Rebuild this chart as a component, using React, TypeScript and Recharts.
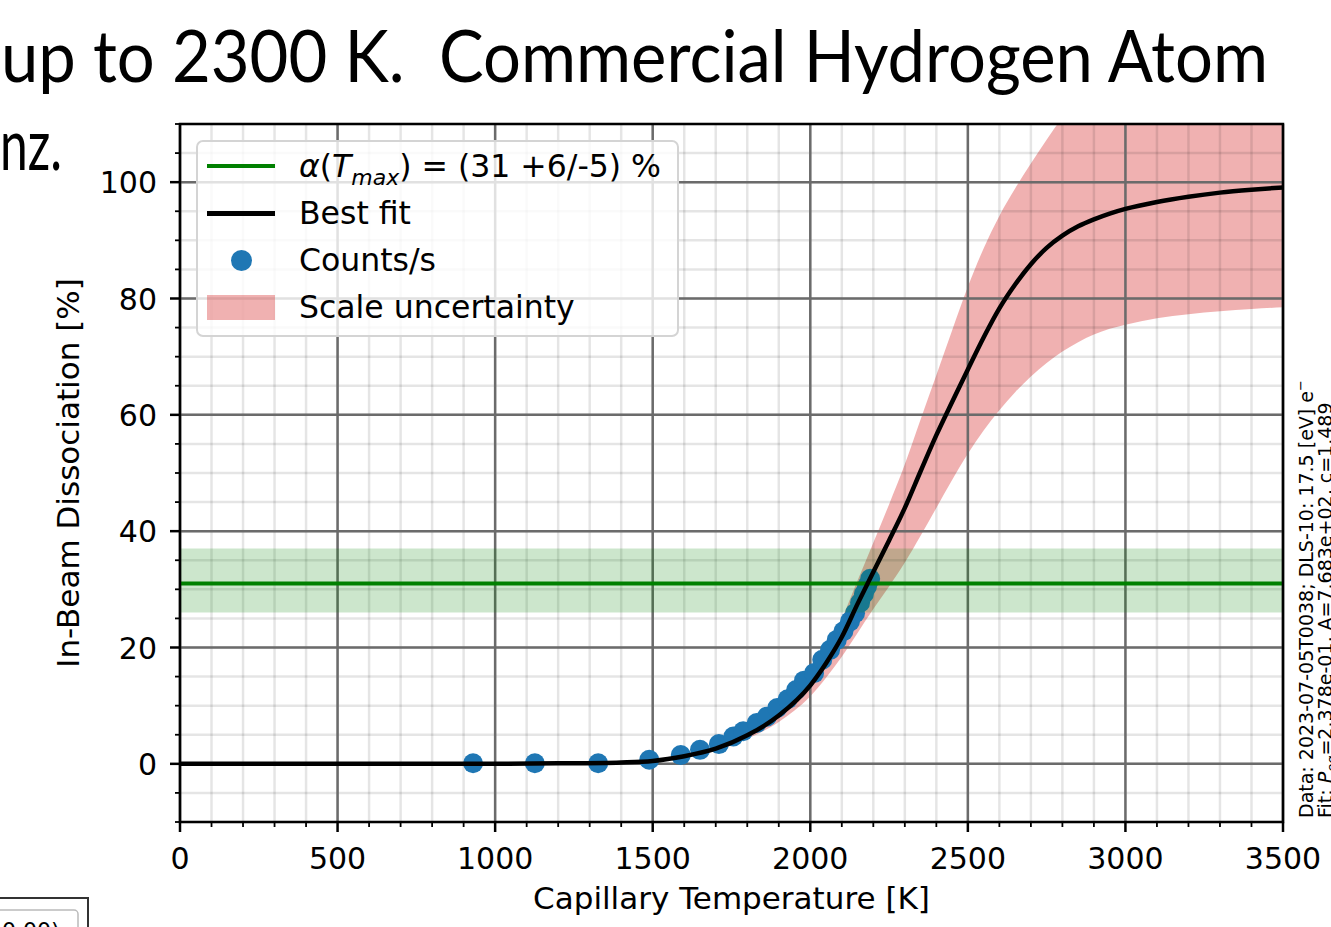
import React from 'react';
import {
  ComposedChart,
  XAxis,
  YAxis,
  CartesianGrid,
  Area,
  Line,
  Scatter,
  ReferenceArea,
  ReferenceLine,
  Legend,
} from 'recharts';

// ---------- axis ticks ----------
const xMajorTicks = [0, 500, 1000, 1500, 2000, 2500, 3000, 3500];
const xMinorTicks = [
  0, 100, 200, 300, 400, 500, 600, 700, 800, 900, 1000, 1100, 1200, 1300, 1400, 1500, 1600, 1700,
  1800, 1900, 2000, 2100, 2200, 2300, 2400, 2500, 2600, 2700, 2800, 2900, 3000, 3100, 3200, 3300,
  3400, 3500,
];
const yMajorTicks = [0, 20, 40, 60, 80, 100];
const yMinorTicks = [
  -10, -5, 0, 5, 10, 15, 20, 25, 30, 35, 40, 45, 50, 55, 60, 65, 70, 75, 80, 85, 90, 95, 100, 105, 110,
];

// ---------- best fit curve & scale uncertainty band ----------
const curveT = [
  0, 500, 1000, 1200, 1400, 1500, 1600, 1700, 1800, 1900, 2000, 2050, 2100, 2150, 2200, 2250, 2300,
  2350, 2400, 2450, 2500, 2550, 2600, 2650, 2700, 2750, 2800, 2850, 2900, 2950, 3000, 3100, 3200,
  3300, 3400, 3500,
];
const fitV = [
  0, 0, 0.02, 0.08, 0.25, 0.5, 1.3, 2.6, 4.9, 8.3, 13.5, 17.3, 21.8, 27.5, 33, 38.4, 44, 50.3, 56.5,
  62.2, 67.8, 73.3, 78.3, 82.4, 85.9, 88.7, 90.8, 92.4, 93.6, 94.6, 95.4, 96.6, 97.5, 98.2, 98.7,
  99.1,
];
const lowerV = [
  0, 0, 0.02, 0.06, 0.2, 0.42, 1.1, 2.2, 4.3, 7.2, 11.6, 14.8, 18.4, 22.5, 26.6, 30.5, 34.6, 39.2, 44,
  48.8, 53.3, 57.3, 60.8, 63.9, 66.6, 68.9, 70.9, 72.5, 73.8, 74.8, 75.5, 76.6, 77.3, 77.8, 78.2,
  78.5,
];
const upperV = [
  0, 0, 0.03, 0.1, 0.3, 0.58, 1.5, 2.9, 5.5, 9.3, 15.1, 19.5, 24.9, 31.5, 38, 44.6, 51.5, 59.2, 66.8,
  74.5, 82, 88.6, 94.2, 98.9, 103.2, 107.3, 111, 113, 114.5, 115.6, 116.5, 117.7, 118.5, 119, 119.4,
  119.7,
];

// ---------- measured points (Counts/s) ----------
const pointsT = [
  930, 1126, 1327, 1489, 1589, 1650, 1710, 1756, 1787, 1830, 1862, 1895, 1928, 1955, 1980, 2012, 2038,
  2063, 2084, 2105, 2126, 2142, 2158, 2170, 2180, 2190,
];
const pointsV = [
  0.1, 0.1, 0.1, 0.7, 1.5, 2.4, 3.4, 4.7, 5.6, 7.0, 8.1, 9.6, 11.1, 12.7, 14.3, 15.6, 17.9, 19.6, 21.3,
  22.8, 24.5, 25.9, 27.7, 29.2, 30.5, 31.8,
];

// ---------- alpha(Tmax) ----------
const alphaValue = 31;
const alphaLow = 26;
const alphaHigh = 37;

const fitData = curveT.map((t, i) => ({ t, fit: fitV[i] }));
const bandData = curveT.map((t, i) => ({ t, range: [lowerV[i], upperV[i]] }));
const pointData = pointsT.map((t, i) => ({ t, v: pointsV[i] }));

const FONT = '"DejaVu Sans", sans-serif';

const XTick = (props: any) => {
  const { x, y, payload } = props;
  const v = payload.value;
  const major = xMajorTicks.includes(v);
  return (
    <g>
      <line x1={x} x2={x} y1={y} y2={y + (major ? 10 : 5)} stroke="#000" strokeWidth={major ? 2.5 : 1.8} />
      {major && (
        <text x={x} y={y + 47} textAnchor="middle" fontSize={30} fontFamily={FONT} fill="#000">
          {v}
        </text>
      )}
    </g>
  );
};

const YTick = (props: any) => {
  const { x, y, payload } = props;
  const v = payload.value;
  const major = yMajorTicks.includes(v);
  return (
    <g>
      <line x1={x - (major ? 10 : 5)} x2={x} y1={y} y2={y} stroke="#000" strokeWidth={major ? 2.5 : 1.8} />
      {major && (
        <text x={x - 23} y={y + 11} textAnchor="end" fontSize={30} fontFamily={FONT} fill="#000">
          {v}
        </text>
      )}
    </g>
  );
};

const XLabel = (props: any) => {
  const vb = props.viewBox || { x: 180, y: 822, width: 1103, height: 100 };
  return (
    <text x={vb.x + vb.width / 2} y={vb.y + 87} textAnchor="middle" fontSize={31} fontFamily={FONT} fill="#000">
      Capillary Temperature [K]
    </text>
  );
};

const YLabel = (props: any) => {
  const vb = props.viewBox || { x: 40, y: 124, width: 140, height: 698 };
  const cx = vb.x + 39;
  const cy = vb.y + vb.height / 2;
  return (
    <text
      x={cx}
      y={cy}
      transform={`rotate(-90, ${cx}, ${cy})`}
      textAnchor="middle"
      fontSize={31}
      fontFamily={FONT}
      fill="#000"
    >
      In-Beam Dissociation [%]
    </text>
  );
};

const rowStyle: React.CSSProperties = {
  position: 'relative',
  height: 47,
  lineHeight: '47px',
  whiteSpace: 'nowrap',
};

const LegendBox = () => (
  <div
    style={{
      width: 483,
      height: 197,
      boxSizing: 'border-box',
      border: '2px solid #d4d4d4',
      borderRadius: 7,
      background: 'rgba(255,255,255,0.8)',
      fontFamily: FONT,
      fontSize: 31.5,
      color: '#000',
      paddingTop: 1,
    }}
  >
    <div style={rowStyle}>
      <div style={{ position: 'absolute', left: 9, top: 21, width: 68, height: 4, background: '#008000' }} />
      <div style={{ position: 'absolute', left: 101, top: 0 }}>
        <span style={{ fontStyle: 'italic' }}>α</span>(<span style={{ fontStyle: 'italic' }}>T</span>
        <span style={{ fontStyle: 'italic', fontSize: 22, position: 'relative', top: 8 }}>max</span>) = (31 +6/-5) %
      </div>
    </div>
    <div style={rowStyle}>
      <div style={{ position: 'absolute', left: 9, top: 21, width: 68, height: 5, background: '#000' }} />
      <div style={{ position: 'absolute', left: 101, top: 0 }}>Best fit</div>
    </div>
    <div style={rowStyle}>
      <div
        style={{
          position: 'absolute',
          left: 33,
          top: 13,
          width: 21,
          height: 21,
          borderRadius: '50%',
          background: '#1f77b4',
        }}
      />
      <div style={{ position: 'absolute', left: 101, top: 0 }}>Counts/s</div>
    </div>
    <div style={rowStyle}>
      <div
        style={{
          position: 'absolute',
          left: 9,
          top: 11,
          width: 68,
          height: 25,
          background: 'rgba(214,39,40,0.36)',
        }}
      />
      <div style={{ position: 'absolute', left: 101, top: 0 }}>Scale uncertainty</div>
    </div>
  </div>
);

const Dot = (props: any) => {
  const { cx, cy } = props;
  if (cx == null || cy == null) return null;
  return <circle cx={cx} cy={cy} r={10} fill="#1f77b4" />;
};

export default function App() {
  return (
    <div
      style={{
        position: 'absolute',
        left: 0,
        top: 0,
        width: 1331,
        height: 927,
        overflow: 'hidden',
        background: '#fff',
      }}
    >
      <ComposedChart width={1331} height={927} margin={{ top: 124, right: 48, bottom: 5, left: 40 }}>
        <XAxis
          type="number"
          dataKey="t"
          domain={[0, 3500]}
          ticks={xMinorTicks}
          interval={0}
          tickSize={0}
          tickMargin={0}
          tickLine={false}
          axisLine={false}
          tick={XTick}
          height={100}
          allowDataOverflow
          label={XLabel}
        />
        <YAxis
          type="number"
          domain={[-10, 110]}
          ticks={yMinorTicks}
          interval={0}
          tickSize={0}
          tickMargin={0}
          tickLine={false}
          axisLine={false}
          tick={YTick}
          width={140}
          allowDataOverflow
          label={YLabel}
        />
        <Area
          data={bandData}
          dataKey="range"
          type="monotone"
          fill="#d62728"
          fillOpacity={0.36}
          stroke="none"
          isAnimationActive={false}
          legendType="none"
          zIndex={1}
        />
        <CartesianGrid
          stroke="#000"
          strokeOpacity={0.1}
          strokeWidth={2.5}
          horizontalValues={yMinorTicks}
          verticalValues={xMinorTicks}
          zIndex={2}
        />
        <CartesianGrid
          stroke="#6b6b6b"
          strokeWidth={2.5}
          horizontalValues={yMajorTicks}
          verticalValues={xMajorTicks}
          zIndex={3}
        />
        <Scatter data={pointData} dataKey="v" shape={Dot} isAnimationActive={false} zIndex={4} />
        <ReferenceArea
          y1={alphaLow}
          y2={alphaHigh}
          x1={0}
          x2={3500}
          fill="#008000"
          fillOpacity={0.2}
          stroke="none"
          zIndex={5}
        />
        <ReferenceLine y={alphaValue} stroke="#008000" strokeWidth={4} zIndex={6} />
        <Line
          data={fitData}
          dataKey="fit"
          type="monotone"
          stroke="#000"
          strokeWidth={4.5}
          dot={false}
          activeDot={false}
          isAnimationActive={false}
          zIndex={7}
        />
        <ReferenceArea
          x1={0}
          x2={3500}
          y1={-10}
          y2={110}
          fill="none"
          fillOpacity={0}
          stroke="#000"
          strokeWidth={2.5}
          zIndex={8}
        />
        <Legend
          content={LegendBox}
          layout="horizontal"
          verticalAlign="middle"
          align="center"
          wrapperStyle={{ position: 'absolute', left: 196, top: 140, width: 483, height: 197 }}
        />
      </ComposedChart>
      <svg
        width={1331}
        height={927}
        style={{ position: 'absolute', left: 0, top: 0, pointerEvents: 'none' }}
      >
        <text
          x={1}
          y={82}
          fontFamily="Lato, 'Open Sans', sans-serif"
          fontSize={72}
          textLength={1267}
          lengthAdjust="spacingAndGlyphs"
          style={{ whiteSpace: 'pre' }}
          fill="#000"
        >
          {'up to 2300 K.  Commercial Hydrogen Atom'}
        </text>
        <text
          x={0}
          y={170}
          fontFamily="Lato, 'Open Sans', sans-serif"
          fontSize={72}
          textLength={62}
          lengthAdjust="spacingAndGlyphs"
          fill="#000"
        >
          nz.
        </text>
        <g transform="translate(1313, 818) rotate(-90)">
          <text x={0} y={0} fontFamily={FONT} fontSize={19} fill="#000">
            Data: 2023-07-05T0038; DLS-10: 17.5 [eV] e
            <tspan fontSize={13} dy={-8}>−</tspan>
          </text>
        </g>
        <g transform="translate(1332, 818) rotate(-90)">
          <text x={0} y={0} fontFamily={FONT} fontSize={19} fill="#000">
            Fit: <tspan fontStyle="italic">P</tspan>
            <tspan fontSize={13} fontStyle="italic" dy={4}>eq</tspan>
            <tspan dy={-4}>=2.378e-01, A=7.683e+02, c=1.489</tspan>
          </text>
        </g>
        <path d="M0 898 H88 V930" stroke="#333" strokeWidth={2} fill="none" />
        <rect x={-10} y={910} width={88} height={30} rx={4} fill="#fff" stroke="#bbb" strokeWidth={1.5} />
        <text x={2} y={938} fontFamily={FONT} fontSize={22} fill="#000">
          0.00)
        </text>
      </svg>
    </div>
  );
}
